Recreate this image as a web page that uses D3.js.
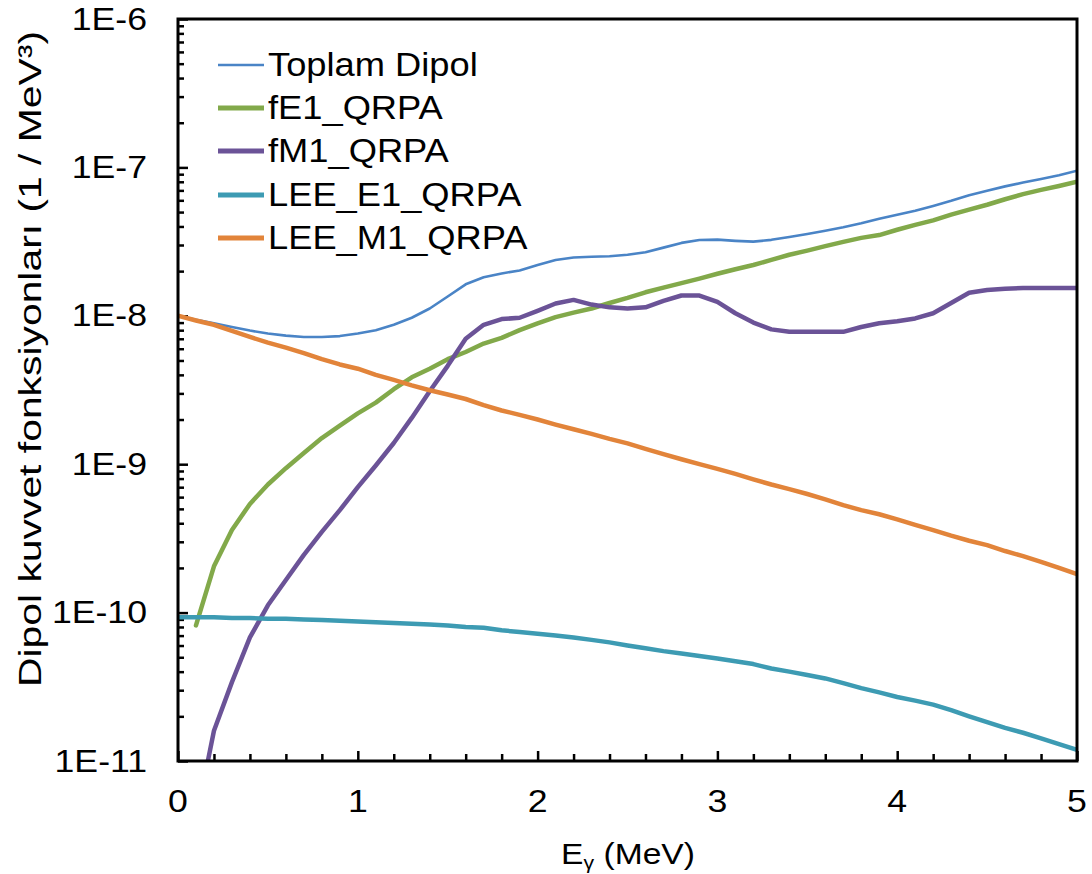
<!DOCTYPE html>
<html>
<head>
<meta charset="utf-8">
<script src="https://cdn.jsdelivr.net/npm/d3@7/dist/d3.min.js"></script>
<style>
  html, body { margin: 0; padding: 0; background: #fff; }
  svg { display: block; }
  text { font-family: Arial, "Liberation Sans", Helvetica, sans-serif; fill: #000; }
</style>
</head>
<body>
<svg id="chart" width="1092" height="874"></svg>
<script>
// ---------------- data ----------------
const energyMeV = [0.0,0.1,0.2,0.3,0.4,0.5,0.6,0.7,0.8,0.9,1.0,1.1,1.2,1.3,1.4,1.5,1.6,1.7,1.8,1.9,2.0,
  2.1,2.2,2.3,2.4,2.5,2.6,2.7,2.8,2.9,3.0,3.1,3.2,3.3,3.4,3.5,3.6,3.7,3.8,3.9,4.0,
  4.1,4.2,4.3,4.4,4.5,4.6,4.7,4.8,4.9,5.0];

const seriesNames = ["Toplam Dipol", "fE1_QRPA", "fM1_QRPA", "LEE_E1_QRPA", "LEE_M1_QRPA"];

const toplamDipol = [1.0e-8,9.4e-9,8.9e-9,8.4e-9,7.95e-9,7.6e-9,7.35e-9,7.2e-9,7.2e-9,7.3e-9,7.6e-9,
  8.0e-9,8.7e-9,9.7e-9,1.12e-8,1.35e-8,1.63e-8,1.82e-8,1.93e-8,2.02e-8,2.2e-8,
  2.38e-8,2.47e-8,2.5e-8,2.52e-8,2.58e-8,2.68e-8,2.88e-8,3.1e-8,3.24e-8,3.26e-8,
  3.2e-8,3.16e-8,3.25e-8,3.4e-8,3.56e-8,3.74e-8,3.95e-8,4.2e-8,4.5e-8,4.8e-8,
  5.1e-8,5.5e-8,5.95e-8,6.5e-8,6.95e-8,7.45e-8,7.9e-8,8.35e-8,8.85e-8,9.5e-8];

const fE1 = [null,8.2e-11,2.05e-10,3.6e-10,5.4e-10,7.3e-10,9.4e-10,1.19e-9,1.5e-9,1.82e-9,2.2e-9,
  2.6e-9,3.2e-9,3.85e-9,4.4e-9,5.1e-9,5.7e-9,6.5e-9,7.1e-9,8.0e-9,8.9e-9,
  9.8e-9,1.05e-8,1.12e-8,1.22e-8,1.32e-8,1.44e-8,1.55e-8,1.66e-8,1.78e-8,1.92e-8,
  2.06e-8,2.2e-8,2.38e-8,2.58e-8,2.75e-8,2.95e-8,3.15e-8,3.35e-8,3.5e-8,3.8e-8,
  4.1e-8,4.4e-8,4.8e-8,5.2e-8,5.6e-8,6.1e-8,6.6e-8,7.05e-8,7.5e-8,8.0e-8];

const fM1 = [null,4.0e-12,1.6e-11,3.4e-11,6.8e-11,1.12e-10,1.66e-10,2.45e-10,3.5e-10,4.9e-10,7.0e-10,
  9.8e-10,1.39e-9,2.05e-9,3.1e-9,4.6e-9,7.0e-9,8.7e-9,9.5e-9,9.7e-9,1.08e-8,
  1.21e-8,1.28e-8,1.19e-8,1.14e-8,1.12e-8,1.14e-8,1.26e-8,1.37e-8,1.37e-8,1.24e-8,
  1.04e-8,9.0e-9,8.1e-9,7.8e-9,7.8e-9,7.8e-9,7.8e-9,8.4e-9,8.9e-9,9.2e-9,
  9.6e-9,1.04e-8,1.22e-8,1.43e-8,1.49e-8,1.52e-8,1.54e-8,1.54e-8,1.54e-8,1.54e-8];

const leeE1 = [9.3e-11,9.3e-11,9.3e-11,9.2e-11,9.2e-11,9.1e-11,9.1e-11,9.0e-11,8.9e-11,8.8e-11,8.7e-11,
  8.6e-11,8.5e-11,8.4e-11,8.3e-11,8.2e-11,8.0e-11,7.9e-11,7.6e-11,7.4e-11,7.2e-11,
  7.0e-11,6.8e-11,6.55e-11,6.3e-11,6.0e-11,5.75e-11,5.5e-11,5.3e-11,5.1e-11,4.9e-11,
  4.7e-11,4.5e-11,4.2e-11,4.0e-11,3.8e-11,3.6e-11,3.35e-11,3.1e-11,2.9e-11,2.7e-11,
  2.55e-11,2.4e-11,2.2e-11,2.0e-11,1.83e-11,1.67e-11,1.55e-11,1.42e-11,1.3e-11,1.19e-11];

const leeM1 = [1.0e-8,9.3e-9,8.7e-9,7.9e-9,7.2e-9,6.6e-9,6.1e-9,5.6e-9,5.1e-9,4.7e-9,4.4e-9,
  4.0e-9,3.7e-9,3.4e-9,3.15e-9,2.95e-9,2.75e-9,2.5e-9,2.3e-9,2.15e-9,2.0e-9,
  1.85e-9,1.72e-9,1.6e-9,1.48e-9,1.38e-9,1.27e-9,1.17e-9,1.08e-9,1.0e-9,9.3e-10,
  8.6e-10,7.9e-10,7.3e-10,6.8e-10,6.3e-10,5.8e-10,5.3e-10,4.9e-10,4.6e-10,4.25e-10,
  3.9e-10,3.6e-10,3.3e-10,3.05e-10,2.85e-10,2.6e-10,2.4e-10,2.2e-10,2.0e-10,1.82e-10];

const xTickValues = [0, 1, 2, 3, 4, 5];
const xTickLabels = ["0", "1", "2", "3", "4", "5"];
const yTickValues = [1e-6, 1e-7, 1e-8, 1e-9, 1e-10, 1e-11];
const yTickLabels = ["1E-6", "1E-7", "1E-8", "1E-9", "1E-10", "1E-11"];

const xTitle = "E";
const xTitleSub = "γ";
const xTitleRest = " (MeV)";
const yTitle = "Dipol kuvvet fonksiyonları  (1 / MeV³)";

// ---------------- styles ----------------
const colors = ["#4a84c6", "#82a94a", "#6b5397", "#3d9bb3", "#e2843a"];
const widths = [2.6, 4.5, 4.5, 4.5, 4.5];

// ---------------- layout ----------------
const svg = d3.select("#chart");
const L = 178, R = 1077, T = 19, B = 761;

const x = d3.scaleLinear().domain([0, 5]).range([L, R]);
const y = d3.scaleLog().domain([1e-11, 1e-6]).range([B, T]);

// clip
svg.append("defs").append("clipPath").attr("id", "plotclip")
  .append("rect").attr("x", L).attr("y", T).attr("width", R - L).attr("height", B - T);

// minor ticks (y)
const yMinor = [];
for (let e = -11; e < -6; e++) for (let m = 2; m <= 9; m++) yMinor.push(m * Math.pow(10, e));
svg.append("g").attr("transform", `translate(${L},0)`)
  .call(d3.axisLeft(y).tickValues(yMinor).tickSize(-6).tickFormat(""))
  .call(g => g.select(".domain").remove())
  .selectAll("line").attr("stroke", "#000").attr("stroke-width", 2.5);
svg.append("g").attr("transform", `translate(${L},0)`)
  .call(d3.axisLeft(y).tickValues(yTickValues).tickSize(-10).tickFormat(""))
  .call(g => g.select(".domain").remove())
  .selectAll("line").attr("stroke", "#000").attr("stroke-width", 2.5);

// x ticks
const xMinor = [];
for (let i = 1; i < 25; i++) if (i % 5 !== 0) xMinor.push(i / 5);
svg.append("g").attr("transform", `translate(0,${B})`)
  .call(d3.axisBottom(x).tickValues(xMinor).tickSize(-7).tickFormat(""))
  .call(g => g.select(".domain").remove())
  .selectAll("line").attr("stroke", "#000").attr("stroke-width", 2.5);
svg.append("g").attr("transform", `translate(0,${B})`)
  .call(d3.axisBottom(x).tickValues(xTickValues).tickSize(-10).tickFormat(""))
  .call(g => g.select(".domain").remove())
  .selectAll("line").attr("stroke", "#000").attr("stroke-width", 2.5);

// series
const allSeries = [toplamDipol, fE1, fM1, leeE1, leeM1];
const line = d3.line()
  .defined(d => d[1] != null)
  .x(d => x(d[0]))
  .y(d => y(d[1]));
const plot = svg.append("g").attr("clip-path", "url(#plotclip)");
allSeries.forEach((vals, i) => {
  plot.append("path")
    .datum(energyMeV.map((e, j) => [e, vals[j]]))
    .attr("fill", "none")
    .attr("stroke", colors[i])
    .attr("stroke-width", widths[i])
    .attr("stroke-linejoin", "round")
    .attr("stroke-linecap", "round")
    .attr("d", line);
});

// frame
svg.append("rect").attr("x", L).attr("y", T).attr("width", R - L).attr("height", B - T)
  .attr("fill", "none").attr("stroke", "#000").attr("stroke-width", 3);

// helper for stretched text
function stext(g, px, py, size, anchor, sx) {
  return g.append("text")
    .attr("transform", `translate(${px},${py}) scale(${sx},1)`)
    .attr("text-anchor", anchor)
    .attr("dominant-baseline", "central")
    .style("font-size", size + "px");
}

// y tick labels
yTickValues.forEach((v, i) => {
  stext(svg, 147, y(v), 31, "end", 1.15).text(yTickLabels[i]);
});
// x tick labels
xTickValues.forEach((v, i) => {
  stext(svg, x(v), 801, 31, "middle", 1.15).text(xTickLabels[i]);
});

// x title
const xt = stext(svg, 628, 854, 30, "middle", 1.12);
xt.append("tspan").text(xTitle);
xt.append("tspan").attr("dy", 8).style("font-size", "19px").text(xTitleSub);
xt.append("tspan").attr("dy", -8).text(xTitleRest);

// y title
svg.append("text")
  .attr("transform", `translate(30,359) rotate(-90)`)
  .attr("text-anchor", "middle")
  .attr("dominant-baseline", "central")
  .attr("textLength", 656)
  .attr("lengthAdjust", "spacingAndGlyphs")
  .style("font-size", "32px")
  .text(yTitle);

// legend
const legendY = [65, 108, 151, 195, 238];
seriesNames.forEach((name, i) => {
  svg.append("line")
    .attr("x1", 218).attr("x2", 264)
    .attr("y1", legendY[i]).attr("y2", legendY[i])
    .attr("stroke", colors[i])
    .attr("stroke-width", i === 0 ? 2.6 : 5);
  stext(svg, 268, legendY[i], 33, "start", 1.1).text(name);
});
</script>
</body>
</html>
